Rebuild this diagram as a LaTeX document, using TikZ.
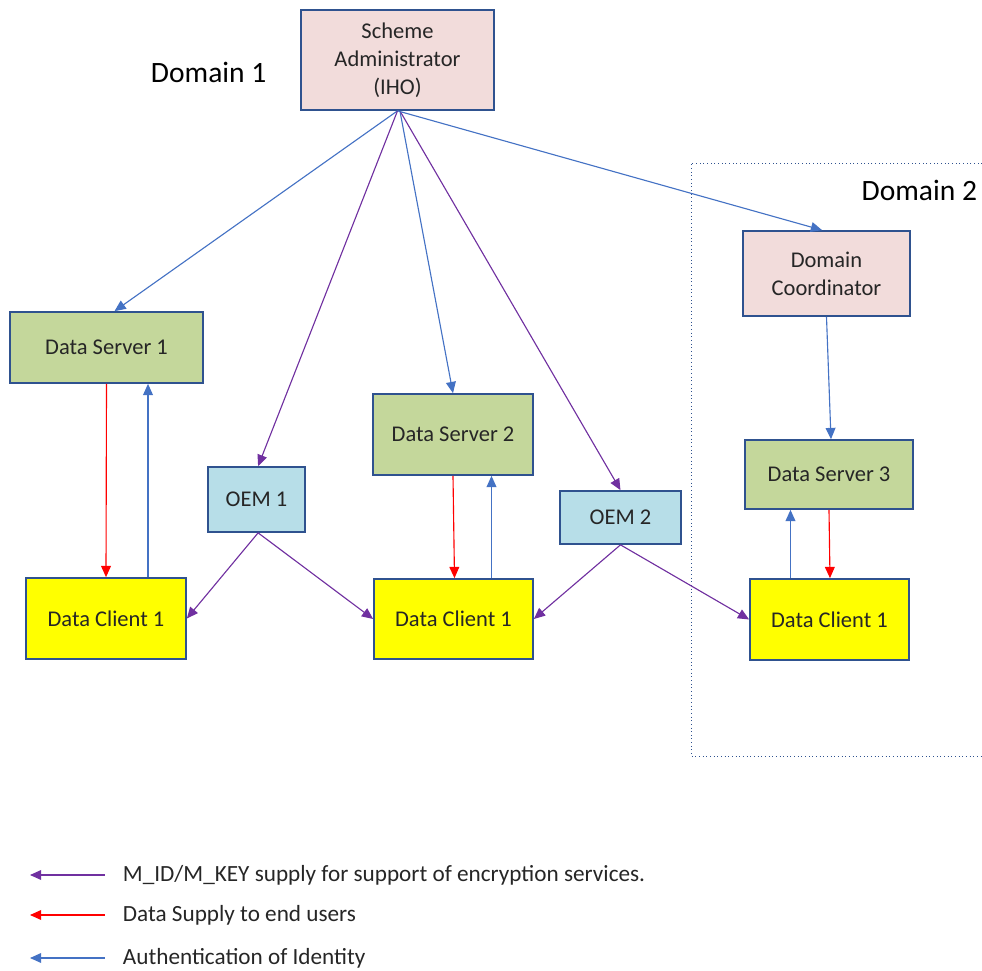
\documentclass[tikz,border=0pt]{standalone}
\usepackage{fontspec}
\setmainfont{Carlito}
\usepackage{tikz}
\usepackage{xcolor}
\usetikzlibrary{arrows.meta}
\definecolor{adminpink}{HTML}{F2DCDB}
\definecolor{servgreen}{HTML}{C4D79B}
\definecolor{oemblue}{HTML}{B7DEE8}
\definecolor{clientyel}{HTML}{FFFF00}
\definecolor{edgeblue}{HTML}{2F528F}
\definecolor{authblue}{HTML}{4472C4}
\definecolor{keypurple}{HTML}{7030A0}
\definecolor{textgrey}{HTML}{262626}

\begin{document}
\begin{tikzpicture}[x=0.025cm,y=-0.025cm,
  box/.style={draw=edgeblue, line width=1.2pt, inner sep=0pt, align=center,
    text=textgrey, font=\fontsize{16}{20}\selectfont},
  admin/.style={box, fill=adminpink},
  server/.style={box, fill=servgreen},
  oem/.style={box, fill=oemblue},
  client/.style={box, fill=clientyel},
  tip/.style={-{Triangle[length=8pt,width=7pt]}, line width=0.8pt},
  keyarr/.style={tip, keypurple},
  dataarr/.style={tip, red},
  autharr/.style={tip, authblue}]
\useasboundingbox (0,0) rectangle (982,971);

\node[admin, minimum width=4.825cm, minimum height=2.5cm] (sa) at (397.5,60) {Scheme\\Administrator\\(IHO)};
\node[server, minimum width=4.825cm, minimum height=1.775cm] (ds1) at (106.5,347.5) {Data Server 1};
\node[client, minimum width=4cm, minimum height=2.025cm] (dc1) at (106,618.5) {Data Client 1};
\node[oem, minimum width=2.425cm, minimum height=1.625cm] (oem1) at (256.5,499.5) {OEM 1};
\node[server, minimum width=4cm, minimum height=2.025cm] (ds2) at (453,434.5) {Data Server 2};
\node[client, minimum width=3.975cm, minimum height=2cm] (dc2) at (453.5,619) {Data Client 1};
\node[oem, minimum width=3.025cm, minimum height=1.325cm] (oem2) at (620.5,517.5) {OEM 2};
\node[admin, minimum width=4.175cm, minimum height=2.125cm] (dco) at (826.5,273.5) {Domain\\Coordinator};
\node[server, minimum width=4.2cm, minimum height=1.725cm] (ds3) at (829,474.5) {Data Server 3};
\node[client, minimum width=3.975cm, minimum height=2.025cm] (dc3) at (829.5,619.5) {Data Client 1};

\node[anchor=west, text=black, font=\fontsize{21}{25}\selectfont] (dom1) at (146,72) {Domain 1};
\node[anchor=east, text=black, font=\fontsize{21}{25}\selectfont] (dom2) at (982,190) {Domain 2};
\draw[edgeblue, dotted, line width=0.6pt] (982,163) -- (691,163) -- (691,756) -- (982,756);

\draw[autharr] (sa.south) -- ([xshift=0.2cm]ds1.north);
\draw[keyarr] (sa.south) -- ([xshift=0.04cm]oem1.north);
\draw[autharr] ([xshift=0.06cm]sa.south) -- (ds2.north);
\draw[keyarr] ([xshift=0.06cm]sa.south) -- (oem2.north);
\draw[autharr] (sa.south) -- ([xshift=-0.11cm]dco.north);
\draw[autharr] (dco.south) -- ([xshift=0.05cm]ds3.north);

\draw[dataarr] (ds1.south) -- (dc1.north);
\draw[autharr] ([xshift=1.05cm]dc1.north) -- ([xshift=1.05cm]ds1.south -| dc1.north);
\draw[dataarr] (ds2.south) -- ([xshift=0.025cm]dc2.north);
\draw[autharr] ([xshift=0.95cm]dc2.north) -- ([xshift=0.95cm]ds2.south -| dc2.north);
\draw[autharr] ([xshift=-0.975cm]dc3.north) -- ([xshift=-0.975cm]ds3.south -| dc3.north);
\draw[dataarr] (ds3.south) -- ([xshift=0.025cm]ds3.south |- dc3.north);

\draw[keyarr] ([xshift=0.04cm]oem1.south) -- (dc1.east);
\draw[keyarr] ([xshift=0.04cm]oem1.south) -- (dc2.west);
\draw[keyarr] (oem2.south) -- (dc2.east);
\draw[keyarr] (oem2.south) -- (dc3.west);

\node[anchor=west, text=textgrey, font=\fontsize{16.5}{20}\selectfont] (lg1) at (118,875) {M\_ID/M\_KEY supply for support of encryption services.};
\node[anchor=west, text=textgrey, font=\fontsize{16.5}{20}\selectfont] (lg2) at (118,915) {Data Supply to end users};
\node[anchor=west, text=textgrey, font=\fontsize{16.5}{20}\selectfont] (lg3) at (118,958) {Authentication of Identity};
\coordinate (m1) at (30,875);
\coordinate (m2) at (30,915);
\coordinate (m3) at (30,958);
\draw[keyarr] ([xshift=-0.33cm]lg1.west) -- (m1);
\draw[dataarr] ([xshift=-0.33cm]lg2.west) -- (m2);
\draw[autharr] ([xshift=-0.33cm]lg3.west) -- (m3);
\end{tikzpicture}
\end{document}
